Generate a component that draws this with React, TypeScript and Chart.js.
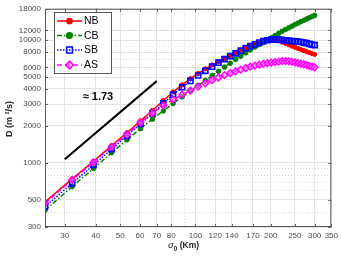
import React, { useEffect, useRef } from 'react';
import { Chart, registerables } from 'chart.js';

Chart.register(...registerables);

const sigma0 = [25, 32.1, 39.1, 46.2, 53.2, 60.3, 67.3, 74.4, 81.4, 88.5, 95.5, 102.6, 109.6, 116.7, 123.7, 130.8, 137.8, 144.9, 151.9, 159, 166, 173.1, 180.1, 187.2, 194.2, 201.3, 208.3, 215.4, 222.4, 229.5, 236.5, 243.6, 250.6, 257.7, 264.7, 271.8, 278.8, 285.9, 292.9, 300];
const nbValues = [480, 740, 1030, 1380, 1760, 2200, 2680, 3220, 3780, 4320, 4850, 5350, 5830, 6280, 6650, 7050, 7450, 7850, 8250, 8620, 8970, 9280, 9560, 9800, 9970, 10050, 10000, 9850, 9620, 9380, 9150, 8930, 8730, 8540, 8370, 8200, 8050, 7900, 7770, 7650];
const cbValues = [410, 640, 900, 1210, 1540, 1900, 2270, 2650, 3040, 3450, 3860, 4280, 4700, 5150, 5580, 6030, 6480, 6950, 7400, 7870, 8330, 8780, 9200, 9600, 10000, 10450, 10900, 11350, 11800, 12200, 12600, 13000, 13400, 13780, 14150, 14520, 14880, 15230, 15570, 15900];
const sbValues = [440, 680, 960, 1290, 1660, 2080, 2530, 3050, 3600, 4130, 4650, 5150, 5620, 6080, 6550, 7000, 7400, 7800, 8200, 8600, 8950, 9250, 9550, 9800, 9980, 10080, 10100, 10080, 10030, 9960, 9900, 9840, 9780, 9720, 9650, 9550, 9450, 9330, 9200, 9100];
const asValues = [470, 725, 1010, 1350, 1700, 2130, 2540, 2930, 3280, 3590, 3880, 4180, 4450, 4720, 4960, 5180, 5380, 5570, 5750, 5920, 6070, 6200, 6310, 6410, 6490, 6560, 6630, 6690, 6740, 6750, 6720, 6660, 6580, 6500, 6420, 6340, 6260, 6180, 6090, 6000];
const fitX = [30, 70];
const fitY = [1070, 4634];
const xTicks = [30, 40, 50, 60, 70, 80, 100, 120, 140, 170, 200, 250, 300, 350];
const yTicks = [300, 500, 1000, 2000, 3000, 4000, 5000, 6000, 8000, 10000, 12000, 18000];
const xMinor = [90];
const yMinor = [400, 600, 700, 800, 900, 7000, 9000];
const seriesNames = ['NB', 'CB', 'SB', 'AS'];
const slopeLabel = '≈ 1.73';
const slopeAnchor = { x: 35.4, y: 3460 };

const FONT = '"Liberation Sans", Arial, Helvetica, sans-serif';
const FRAME = '#5a5a5a';

function drawMarker(ctx: CanvasRenderingContext2D, style: string, x: number, y: number, r: number, fill: string, stroke: string) {
  ctx.save();
  ctx.setLineDash([]);
  ctx.fillStyle = fill;
  ctx.strokeStyle = stroke;
  ctx.lineWidth = 1.5;
  ctx.beginPath();
  if (style === 'circle') {
    ctx.arc(x, y, r, 0, Math.PI * 2);
  } else if (style === 'rect') {
    const s = r * Math.SQRT1_2;
    ctx.rect(x - s, y - s, 2 * s, 2 * s);
  } else {
    ctx.moveTo(x, y - r);
    ctx.lineTo(x + r, y);
    ctx.lineTo(x, y + r);
    ctx.lineTo(x - r, y);
    ctx.closePath();
  }
  ctx.fill();
  ctx.stroke();
  ctx.restore();
}

const decorPlugin = {
  id: 'decor',
  beforeDatasetsDraw(chart: any) {
    const { ctx, chartArea: a, scales } = chart;
    const x = scales.x, y = scales.y;
    ctx.save();
    ctx.strokeStyle = '#d6d6d6';
    ctx.lineWidth = 1;
    ctx.setLineDash([1, 2]);
    yMinor.forEach((v) => {
      const py = Math.round(y.getPixelForValue(v)) + 0.5;
      ctx.beginPath();
      ctx.moveTo(a.left, py);
      ctx.lineTo(a.right, py);
      ctx.stroke();
    });
    xMinor.forEach((v) => {
      const px = Math.round(x.getPixelForValue(v)) + 0.5;
      ctx.beginPath();
      ctx.moveTo(px, a.top);
      ctx.lineTo(px, a.bottom);
      ctx.stroke();
    });
    ctx.restore();
  },
  afterDatasetsDraw(chart: any) {
    const { ctx, chartArea: a, scales } = chart;
    const x = scales.x, y = scales.y;
    ctx.save();
    ctx.strokeStyle = FRAME;
    ctx.lineWidth = 1;
    ctx.setLineDash([]);
    ctx.strokeRect(a.left + 0.5, a.top + 0.5, a.right - a.left - 1, a.bottom - a.top - 1);
    const tl = 3;
    ctx.beginPath();
    xTicks.forEach((v) => {
      const px = Math.round(x.getPixelForValue(v)) + 0.5;
      ctx.moveTo(px, a.bottom);
      ctx.lineTo(px, a.bottom - tl);
      ctx.moveTo(px, a.top);
      ctx.lineTo(px, a.top + tl);
    });
    yTicks.forEach((v) => {
      const py = Math.round(y.getPixelForValue(v)) + 0.5;
      ctx.moveTo(a.left, py);
      ctx.lineTo(a.left + tl, py);
      ctx.moveTo(a.right, py);
      ctx.lineTo(a.right - tl, py);
    });
    ctx.stroke();
    ctx.fillStyle = '#000';
    ctx.font = `bold 11px ${FONT}`;
    ctx.textAlign = 'left';
    ctx.textBaseline = 'middle';
    ctx.fillText(slopeLabel, x.getPixelForValue(slopeAnchor.x), y.getPixelForValue(slopeAnchor.y));
    ctx.restore();
  },
  afterDraw(chart: any) {
    const { ctx, chartArea: a } = chart;
    ctx.save();
    const bx = 54.5, by = 12.5, bw = 57, bh = 61;
    ctx.fillStyle = '#fff';
    ctx.fillRect(bx, by, bw, bh);
    ctx.strokeStyle = FRAME;
    ctx.lineWidth = 1;
    ctx.strokeRect(bx, by, bw, bh);
    const rows = [21, 35.5, 50, 65];
    seriesNames.forEach((name, i) => {
      const ds = chart.data.datasets[i];
      const ry = rows[i];
      ctx.strokeStyle = ds.borderColor;
      ctx.lineWidth = ds.borderWidth;
      ctx.setLineDash(ds.borderDash || []);
      ctx.beginPath();
      ctx.moveTo(57, ry);
      ctx.lineTo(82, ry);
      ctx.stroke();
      drawMarker(ctx, ds.pointStyle, 69.5, ry, ds.pointRadius + 0.5, ds.pointBackgroundColor, ds.borderColor);
      ctx.fillStyle = '#000';
      ctx.font = `10.5px ${FONT}`;
      ctx.textAlign = 'left';
      ctx.textBaseline = 'middle';
      ctx.fillText(name, 84, ry + 0.5);
    });
    ctx.save();
    ctx.translate(10, (a.top + a.bottom) / 2 + 1);
    ctx.rotate(-Math.PI / 2);
    ctx.fillStyle = '#262626';
    ctx.font = `bold 9px ${FONT}`;
    ctx.textAlign = 'center';
    ctx.textBaseline = 'middle';
    ctx.fillText('D (m ²/s)', 0, 0);
    ctx.restore();
    ctx.fillStyle = '#262626';
    ctx.textBaseline = 'alphabetic';
    ctx.textAlign = 'left';
    let cx = 168;
    const base = 248;
    ctx.font = `italic 9.5px ${FONT}`;
    ctx.fillText('σ', cx, base);
    cx += ctx.measureText('σ').width;
    ctx.font = `bold 6.5px ${FONT}`;
    ctx.fillText('0', cx, base + 2.5);
    cx += ctx.measureText('0').width;
    ctx.font = `bold 8.5px ${FONT}`;
    ctx.fillText(' (Km)', cx, base);
    ctx.restore();
  },
};

function pts(vals: number[]) {
  return sigma0.map((s, i) => ({ x: s, y: vals[i] }));
}

export default function App() {
  const ref = useRef<HTMLCanvasElement | null>(null);
  useEffect(() => {
    if (!ref.current) return;
    const chart = new Chart(ref.current, {
      type: 'line',
      data: {
        datasets: [
          {
            label: seriesNames[0], data: pts(nbValues), borderColor: '#ff0000', backgroundColor: '#ff0000',
            pointBackgroundColor: '#ff0000', pointBorderColor: '#ff0000', pointStyle: 'circle', pointRadius: 2.1,
            pointBorderWidth: 1, borderWidth: 1.5, order: 4,
          } as any,
          {
            label: seriesNames[1], data: pts(cbValues), borderColor: '#008000', backgroundColor: '#008000',
            pointBackgroundColor: '#008000', pointBorderColor: '#008000', pointStyle: 'circle', pointRadius: 2.3,
            pointBorderWidth: 1, borderWidth: 1.5, borderDash: [5, 2, 1.5, 2], order: 3,
          } as any,
          {
            label: seriesNames[2], data: pts(sbValues), borderColor: '#0000ff', backgroundColor: '#0000ff',
            pointBackgroundColor: 'rgba(255,255,255,0)', pointBorderColor: '#0000ff', pointStyle: 'rect', pointRadius: 3.6,
            pointBorderWidth: 1.6, borderWidth: 1.5, borderDash: [1.5, 1.5], order: 2,
          } as any,
          {
            label: seriesNames[3], data: pts(asValues), borderColor: '#ff00ff', backgroundColor: '#ff00ff',
            pointBackgroundColor: 'rgba(255,120,255,0.5)', pointBorderColor: '#ff00ff', pointStyle: 'rectRot', pointRadius: 3.4,
            pointBorderWidth: 1.4, borderWidth: 1.5, borderDash: [5, 3], order: 1,
          } as any,
          {
            label: 'fit', data: fitX.map((v, i) => ({ x: v, y: fitY[i] })), borderColor: '#000000',
            backgroundColor: '#000000', pointRadius: 0, borderWidth: 2, order: 0,
          } as any,
        ],
      },
      options: {
        responsive: false,
        animation: false,
        devicePixelRatio: 1,
        events: [],
        layout: { padding: { top: 4, right: 7, left: 0, bottom: 0 } },
        plugins: { legend: { display: false }, tooltip: { enabled: false }, title: { display: false } },
        elements: { line: { tension: 0 } },
        scales: {
          x: {
            type: 'logarithmic',
            min: 25,
            max: 350,
            afterBuildTicks: (s: any) => { s.ticks = xTicks.map((v) => ({ value: v })); },
            afterFit: (s: any) => { s.height = 29; },
            ticks: {
              autoSkip: false, maxRotation: 0, minRotation: 0, padding: 4,
              color: '#4d4d4d', font: { family: FONT, size: 8 },
              callback: (v: any) => String(v),
            },
            grid: { color: '#e4e4e4', lineWidth: 1, drawTicks: false },
            border: { display: false },
          },
          y: {
            type: 'logarithmic',
            min: 300,
            max: 18000,
            afterBuildTicks: (s: any) => { s.ticks = yTicks.map((v) => ({ value: v })); },
            afterFit: (s: any) => { s.width = 45; },
            ticks: {
              autoSkip: false, padding: 4,
              color: '#4d4d4d', font: { family: FONT, size: 8 },
              callback: (v: any) => String(v),
            },
            grid: { color: '#e4e4e4', lineWidth: 1, drawTicks: false },
            border: { display: false },
          },
        },
      } as any,
      plugins: [decorPlugin],
    });
    return () => chart.destroy();
  }, []);
  return (
    <div style={{ position: 'fixed', left: 0, top: 0, width: 342, height: 256, background: '#fff' }}>
      <canvas ref={ref} width={342} height={256} style={{ display: 'block' }} />
    </div>
  );
}
